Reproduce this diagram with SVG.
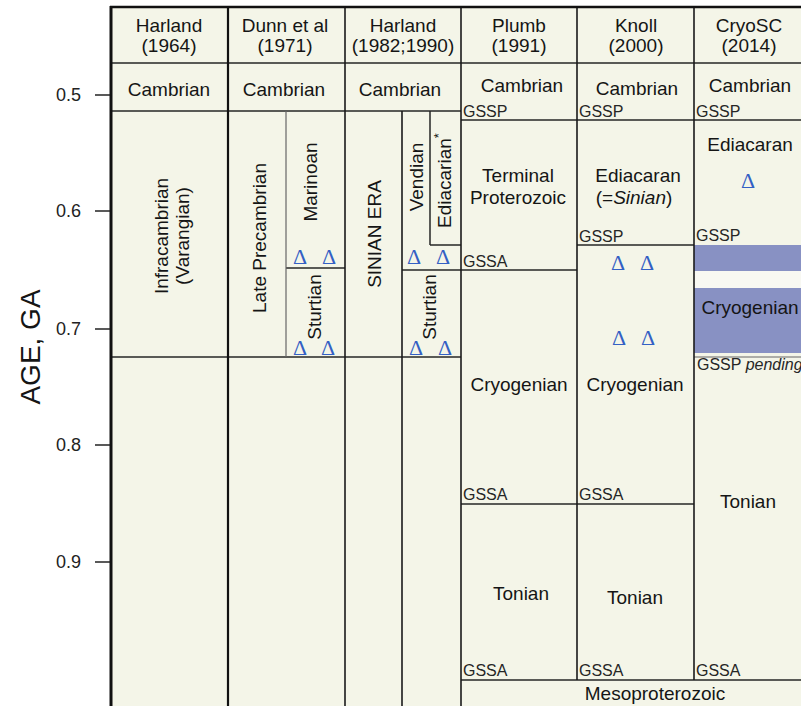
<svg xmlns="http://www.w3.org/2000/svg" width="801" height="706" viewBox="0 0 801 706">
<style>
text{font-family:"Liberation Sans",Arial,sans-serif;fill:#151515}
.t{font-size:19px;text-anchor:middle}
.s{font-size:16px;fill:#262626}
.ax{font-size:18px;text-anchor:end;fill:#222}
.d{font-family:"Liberation Serif","Times New Roman",serif;font-size:22px;text-anchor:middle;fill:#3360c4}
.ln{stroke:#1a1a1a;stroke-width:1.6;fill:none}
.thin{stroke:#262626;stroke-width:1.5;fill:none}
.lt{stroke:#666;stroke-width:1.2;fill:none}
</style>
<rect x="0" y="0" width="801" height="706" fill="#ffffff"/>
<rect x="111" y="7" width="690" height="699" fill="#f4f5e8"/>
<g id="cryo-band">
<rect x="694" y="245" width="107" height="26" fill="#8891c3"/>
<rect x="694" y="271" width="107" height="17" fill="#f8f8f2"/>
<rect x="694" y="288" width="107" height="65" fill="#8891c3"/>
</g>
<g id="connectors">
<line class="thin" x1="111" y1="63" x2="801" y2="63"/>
<line class="thin" x1="111" y1="111" x2="461" y2="111"/>
<line class="thin" x1="461" y1="120" x2="801" y2="120"/>
<line class="thin" x1="111" y1="357" x2="461" y2="357"/>
<line class="lt" x1="694" y1="357" x2="801" y2="357"/>
<line class="thin" x1="286" y1="268" x2="345" y2="268"/>
<line class="thin" x1="402" y1="270" x2="461" y2="270"/>
<line class="thin" x1="430" y1="245" x2="461" y2="245"/>
<line class="thin" x1="461" y1="270" x2="577" y2="270"/>
<line class="thin" x1="577" y1="245" x2="694" y2="245"/>
<line class="thin" x1="461" y1="504" x2="694" y2="504"/>
<line class="thin" x1="461" y1="680" x2="801" y2="680"/>
<line class="lt" x1="286" y1="111" x2="286" y2="357"/>
<line class="thin" x1="430" y1="111" x2="430" y2="245"/>
<line class="ln" x1="402" y1="111" x2="402" y2="706"/>
<line class="ln" x1="577" y1="7" x2="577" y2="680"/>
<line class="ln" x1="694" y1="7" x2="694" y2="680"/>
<line class="ln" x1="461" y1="7" x2="461" y2="706"/>
<line class="ln" x1="345" y1="7" x2="345" y2="706"/>
<line stroke="#111" stroke-width="2.2" x1="228" y1="7" x2="228" y2="706"/>
<line stroke="#111" stroke-width="3" x1="111" y1="6" x2="111" y2="706"/>
<line stroke="#111" stroke-width="2.5" x1="110" y1="7" x2="801" y2="7"/>
<g stroke="#222" stroke-width="1.5">
<line x1="95" y1="95" x2="110" y2="95"/>
<line x1="95" y1="211" x2="110" y2="211"/>
<line x1="95" y1="329" x2="110" y2="329"/>
<line x1="95" y1="445" x2="110" y2="445"/>
<line x1="95" y1="562" x2="110" y2="562"/>
</g>
</g>
<g id="axis">
<text class="ax" x="81" y="101">0.5</text>
<text class="ax" x="81" y="217">0.6</text>
<text class="ax" x="81" y="335">0.7</text>
<text class="ax" x="81" y="451">0.8</text>
<text class="ax" x="81" y="568">0.9</text>
<text font-size="28" text-anchor="middle" transform="translate(40,347) rotate(-90)">AGE, GA</text>
</g>
<g id="headers">
<text class="t" x="169" y="32">Harland</text><text class="t" x="169" y="52">(1964)</text>
<text class="t" x="285" y="32">Dunn et al</text><text class="t" x="285" y="52">(1971)</text>
<text class="t" x="403" y="32">Harland</text><text class="t" x="403" y="52">(1982;1990)</text>
<text class="t" x="519" y="32">Plumb</text><text class="t" x="519" y="52">(1991)</text>
<text class="t" x="636" y="32">Knoll</text><text class="t" x="636" y="52">(2000)</text>
<text class="t" x="749" y="32">CryoSC</text><text class="t" x="749" y="52">(2014)</text>
</g>
<g id="cambrian">
<text class="t" x="169" y="96">Cambrian</text>
<text class="t" x="284" y="96">Cambrian</text>
<text class="t" x="400" y="96">Cambrian</text>
<text class="t" x="522" y="92">Cambrian</text>
<text class="t" x="637" y="95">Cambrian</text>
<text class="t" x="750" y="92">Cambrian</text>
<text class="s" x="463" y="117">GSSP</text>
<text class="s" x="579" y="117">GSSP</text>
<text class="s" x="696" y="117">GSSP</text>
</g>
<g id="harland1964">
<text class="t" transform="translate(168,236) rotate(-90)">Infracambrian</text>
<text class="t" transform="translate(189,236) rotate(-90)">(Varangian)</text>
</g>
<g id="dunn1971">
<text class="t" transform="translate(266,238) rotate(-90)">Late Precambrian</text>
<text class="t" transform="translate(317,182) rotate(-90)">Marinoan</text>
<text class="t" transform="translate(321,307) rotate(-90)">Sturtian</text>
<text class="d" x="300" y="264">Δ</text><text class="d" x="329" y="264">Δ</text>
<text class="d" x="300" y="355">Δ</text><text class="d" x="328" y="355">Δ</text>
</g>
<g id="harland1982">
<text class="t" transform="translate(381,234) rotate(-90)">SINIAN ERA</text>
<text class="t" transform="translate(423,177) rotate(-90)">Vendian</text>
<text font-size="19" transform="translate(451,228) rotate(-90)">Ediacarian<tspan font-size="13" dy="-8">*</tspan></text>
<text class="t" transform="translate(436,307) rotate(-90)">Sturtian</text>
<text class="d" x="414" y="264">Δ</text><text class="d" x="443" y="264">Δ</text>
<text class="d" x="416" y="355">Δ</text><text class="d" x="445" y="355">Δ</text>
</g>
<g id="plumb1991">
<text class="t" x="518" y="182">Terminal</text>
<text class="t" x="518" y="204">Proterozoic</text>
<text class="s" x="463" y="267">GSSA</text>
<text class="t" x="519" y="391">Cryogenian</text>
<text class="s" x="463" y="500">GSSA</text>
<text class="t" x="521" y="600">Tonian</text>
<text class="s" x="463" y="676">GSSA</text>
</g>
<g id="knoll2000">
<text class="t" x="638" y="182">Ediacaran</text>
<text class="t" x="634" y="204">(=<tspan font-style="italic">Sinian</tspan>)</text>
<text class="s" x="579" y="242">GSSP</text>
<text class="d" x="618" y="270">Δ</text><text class="d" x="647" y="270">Δ</text>
<text class="d" x="619" y="345">Δ</text><text class="d" x="648" y="345">Δ</text>
<text class="t" x="635" y="391">Cryogenian</text>
<text class="s" x="579" y="500">GSSA</text>
<text class="t" x="635" y="604">Tonian</text>
<text class="s" x="579" y="676">GSSA</text>
</g>
<g id="cryosc2014">
<text class="t" x="750" y="151">Ediacaran</text>
<text class="d" x="748" y="188">Δ</text>
<text class="s" x="696" y="241">GSSP</text>
<text class="t" x="750" y="314">Cryogenian</text>
<text class="s" x="697" y="370">GSSP <tspan font-style="italic">pending</tspan></text>
<text class="t" x="748" y="508">Tonian</text>
<text class="s" x="696" y="676">GSSA</text>
</g>
<g id="meso">
<text class="t" x="655" y="700">Mesoproterozoic</text>
</g>
</svg>
